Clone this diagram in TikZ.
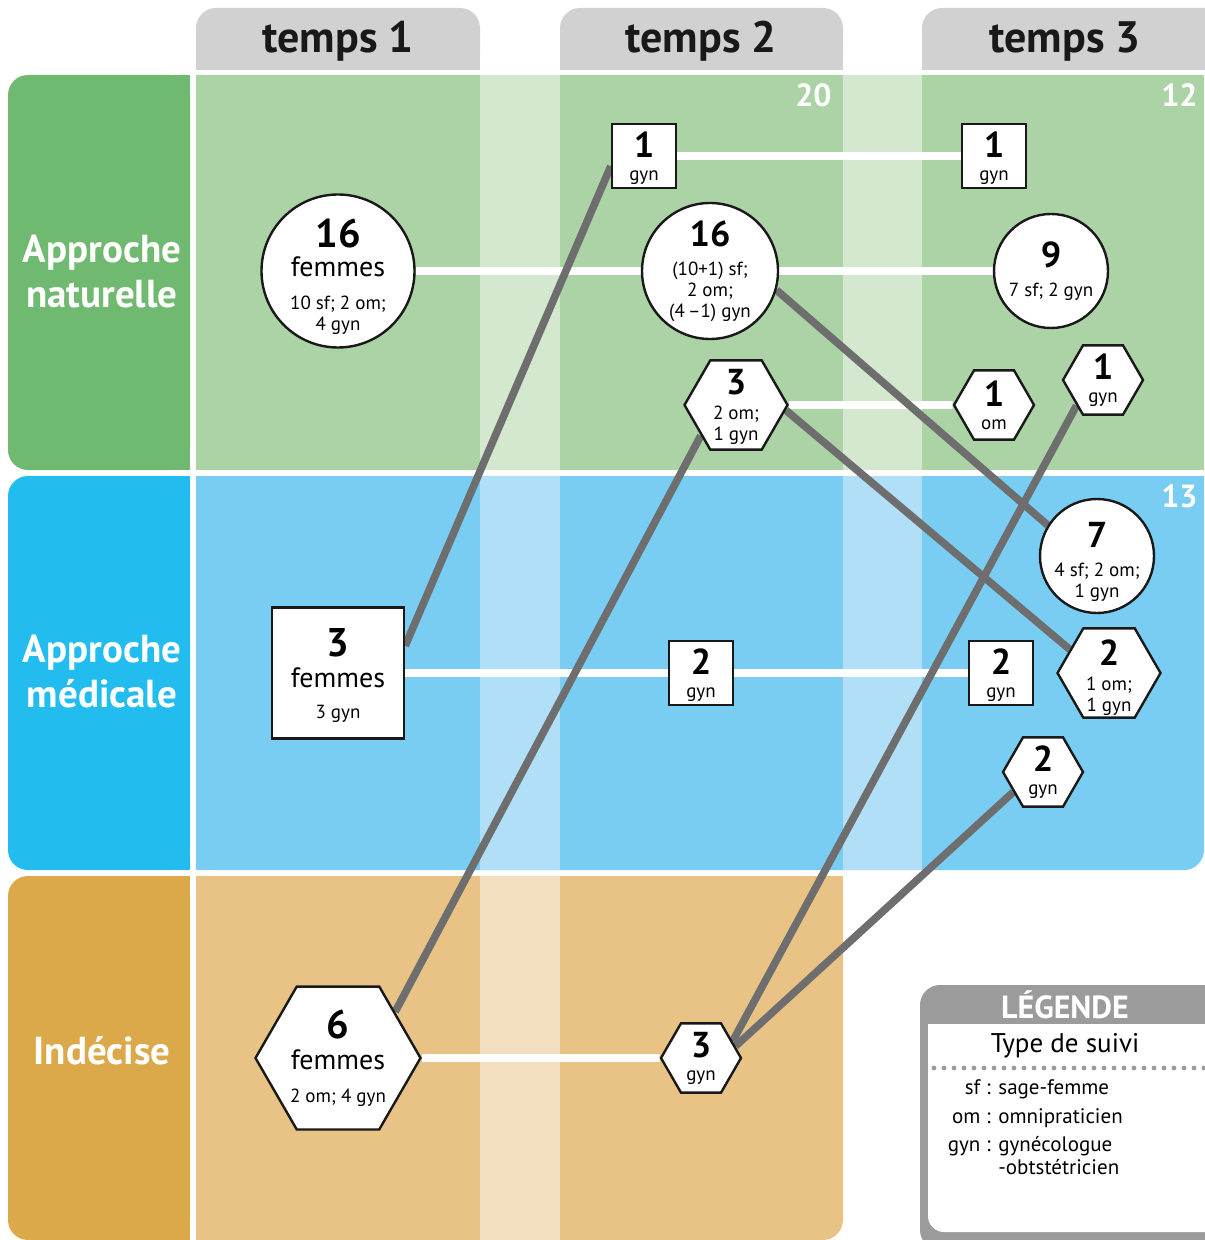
\documentclass[tikz,border=0pt]{standalone}
\usepackage{fontspec}
\setmainfont{PT Sans}
\usetikzlibrary{shapes.geometric}

\definecolor{natlabel}{HTML}{70B970}
\definecolor{natfill}{HTML}{ACD3A5}
\definecolor{natband}{HTML}{D3E8CF}
\definecolor{medlabel}{HTML}{22BCEE}
\definecolor{medfill}{HTML}{79CCF2}
\definecolor{medband}{HTML}{B0DFF7}
\definecolor{indlabel}{HTML}{DCA94A}
\definecolor{indfill}{HTML}{E8C385}
\definecolor{indband}{HTML}{F3DFC0}
\definecolor{tabgray}{HTML}{D1D1D1}
\definecolor{linkgray}{HTML}{6E6E6E}
\definecolor{leggray}{HTML}{9B9B9B}

\newcommand{\numfont}{\fontsize{20}{20}\bfseries\selectfont}
\newcommand{\subfont}{\fontsize{18}{18}\bfseries\selectfont}
\newcommand{\femfont}{\fontsize{14}{15}\selectfont}
\newcommand{\detfont}{\fontsize{9.5}{10.5}\selectfont}
\newcommand{\topgap}[1]{\rule{0pt}{#1}}

\pgfdeclarelayer{base}
\pgfdeclarelayer{links}
\pgfsetlayers{base,links,main}

\tikzset{
  bubble/.style={circle, draw=black!90, line width=1.2pt, fill=white, inner sep=-6pt, align=center, font=\detfont},
  boxnode/.style={rectangle, draw=black!90, line width=1.2pt, fill=white, inner sep=-3pt, align=center, font=\detfont},
  hexnode/.style={regular polygon, regular polygon sides=6, draw=black!90, line width=1.2pt, fill=white, inner sep=-6pt, align=center, font=\detfont},
  stayline/.style={white, line width=3.8pt},
  moveline/.style={linkgray, line width=3.8pt},
  tabtext/.style={font=\fontsize{22}{24}\bfseries\selectfont, text=black!90, anchor=base},
  rowlabel/.style={font=\fontsize{19.5}{22.5}\bfseries\selectfont, text=white, align=center},
  total/.style={font=\fontsize{16}{18}\bfseries\selectfont, text=white, anchor=base east, inner sep=0pt},
  legtext/.style={font=\fontsize{10.5}{12}\selectfont, anchor=base, inner sep=0pt},
}

\begin{document}
\begin{tikzpicture}[x=0.5pt, y=-0.5pt]
\useasboundingbox (0,0) rectangle (1204,1240);

\begin{pgfonlayer}{base}
% column tabs
\foreach \xa/\xb in {196/480, 560/843, 922/1240} {
  \fill[tabgray, rounded corners=10pt] (\xa,8) rectangle (\xb,70);
  \fill[tabgray] (\xa,40) rectangle (\xb,70);
}
% row heads
\fill[natlabel, rounded corners=10pt] (8,75) rectangle (190,470);
\fill[natlabel] (150,75) rectangle (190,470);
\fill[medlabel, rounded corners=10pt] (8,476) rectangle (190,870);
\fill[medlabel] (150,476) rectangle (190,870);
\fill[indlabel, rounded corners=10pt] (8,876) rectangle (190,1240);
\fill[indlabel] (150,876) rectangle (190,1240);
% rows
\fill[natfill] (196,75) rectangle (1204,470);
\fill[natband] (480,75) rectangle (560,470);
\fill[natband] (843,75) rectangle (922,470);
\fill[medfill, rounded corners=10pt] (196,476) rectangle (1204,870);
\fill[medfill] (196,476) rectangle (1204,520);
\fill[medfill] (196,476) rectangle (240,870);
\fill[medband] (480,476) rectangle (560,870);
\fill[medband] (843,476) rectangle (922,870);
\fill[indfill, rounded corners=10pt] (196,876) rectangle (843,1240);
\fill[indfill] (196,876) rectangle (843,920);
\fill[indfill] (196,876) rectangle (240,1240);
\fill[indband] (480,876) rectangle (560,1240);
% legend frame
\fill[leggray, rounded corners=10pt] (920,985) rectangle (1240,1250);
\fill[white, rounded corners=8pt] (928,1024) rectangle (1240,1232);
\fill[white] (928,1024) rectangle (960,1050);
\draw[leggray, line width=2.4pt, line cap=round, dash pattern=on 0pt off 5pt] (934,1068) -- (1204,1068);
\end{pgfonlayer}

% headings
\node[tabtext] (t1) at (338,53) {temps 1};
\node[tabtext] (t2) at (701,53) {temps 2};
\node[tabtext] (t3) at (1065,53) {temps 3};
\node[rowlabel] (nat) at (102,272) {Approche\\naturelle};
\node[rowlabel] (med) at (102,672) {Approche\\médicale};
\node[rowlabel] (ind) at (102,1051) {Indécise};
\node[total] (n20) at (832,107) {20};
\node[total] (n12) at (1198,107) {12};
\node[total] (n13) at (1198,507) {13};

% temps 1
\node[bubble, minimum size=76.5pt] (A1) at (338,271) {{\numfont\topgap{20pt}16}\\[4pt]{\femfont femmes}\\[6pt]10 sf; 2 om;\\4 gyn};
\node[boxnode, minimum width=66pt, minimum height=65.5pt] (B1) at (338,673) {{\numfont\topgap{17pt}3}\\[5pt]{\femfont femmes}\\[5pt]3 gyn};
\node[hexnode, minimum size=82.5pt] (C1) at (338,1058) {{\numfont 6}\\[5pt]{\femfont femmes}\\[6pt]2 om; 4 gyn};

% temps 2
\node[boxnode, minimum size=32pt] (A2a) at (644,156) {{\subfont\topgap{15.5pt}1}\\[1pt]gyn};
\node[bubble, minimum size=68pt] (A2b) at (710,271) {{\subfont 16}\\[4pt](10+1) sf;\\2 om;\\(4\,–1) gyn};
\node[hexnode, minimum size=51.5pt] (A2c) at (736,405) {{\subfont\topgap{15pt}3}\\[2pt]2 om;\\1 gyn};
\node[boxnode, minimum size=32pt] (B2) at (701,673) {{\subfont\topgap{15.5pt}2}\\[1pt]gyn};
\node[hexnode, minimum size=40pt] (C2) at (701,1058) {{\subfont 3}\\[1pt]gyn};

% temps 3
\node[boxnode, minimum size=32pt] (A3a) at (994,156) {{\subfont\topgap{15.5pt}1}\\[1pt]gyn};
\node[bubble, minimum size=57pt] (A3b) at (1051,271) {{\subfont 9}\\[4pt]7 sf; 2 gyn};
\node[hexnode, minimum size=40pt] (A3c) at (994,405) {{\subfont 1}\\[1pt]om};
\node[hexnode, minimum size=40pt] (A3d) at (1103,380) {{\subfont 1}\\[1pt]gyn};
\node[bubble, minimum size=57pt] (B3b) at (1097,556) {{\subfont\topgap{18.5pt}7}\\[4pt]4 sf; 2 om;\\1 gyn};
\node[boxnode, minimum size=32pt] (B3a) at (1001,673) {{\subfont\topgap{15.5pt}2}\\[1pt]gyn};
\node[hexnode, minimum size=51.5pt] (B3c) at (1109,673) {{\subfont\topgap{17.5pt}2}\\[2pt]1 om;\\1 gyn};
\node[hexnode, minimum size=40pt] (B3d) at (1043,772) {{\subfont 2}\\[1pt]gyn};

% legend
\node[font=\fontsize{16}{18}\bfseries\selectfont, text=white] (leg) at (1065,1005) {LÉGENDE};
\node[font=\fontsize{13.5}{15}\selectfont] (suivi) at (1065,1046) {Type de suivi};
\node[legtext, anchor=base east] (sfk) at (991,1094) {sf~:};
\node[legtext, anchor=base west] (sfv) at (998,1094) {sage-femme};
\node[legtext, anchor=base east] (omk) at (991,1123) {om~:};
\node[legtext, anchor=base west] (omv) at (998,1123) {omnipraticien};
\node[legtext, anchor=base east] (gynk) at (991,1151) {gyn~:};
\node[legtext, anchor=base west] (gynv) at (998,1151) {gynécologue};
\node[legtext, anchor=base west] (gynw) at (998,1174) {-obtstétricien};

\begin{pgfonlayer}{links}
% same follow-up
\draw[stayline] (A1) -- (A2b);
\draw[stayline] (A2b) -- (A3b);
\draw[stayline] (A2a) -- (A3a);
\draw[stayline] (A2c) -- (A3c);
\draw[stayline] (B1) -- (B2);
\draw[stayline] (B2) -- (B3a);
\draw[stayline] (C1) -- (C2);
% changes
\draw[moveline] (B1.22) -- (A2a.197);
\draw[moveline] (A2b.-16) -- (B3b.148);
\draw[moveline] (A2c.-6) -- (B3c.149);
\draw[moveline] (C1.39) -- (A2c.221);
\draw[moveline] (C2.28) -- (A3d.224);
\draw[moveline] (C2.19) -- (B3d.214);
\end{pgfonlayer}
\end{tikzpicture}
\end{document}
